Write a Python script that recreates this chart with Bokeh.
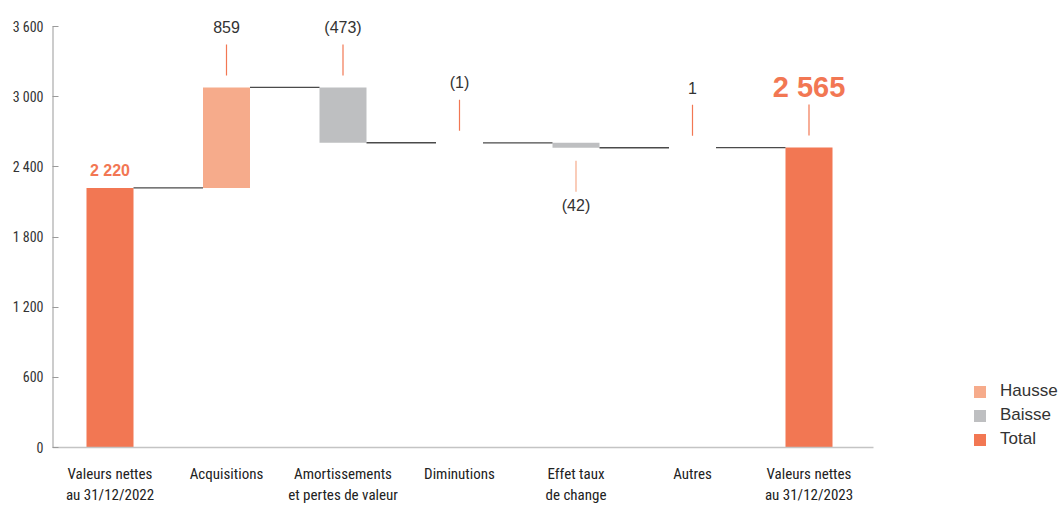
from bokeh.plotting import figure
from bokeh.models import ColumnDataSource, Range1d, FixedTicker, Legend, LegendItem
from bokeh.embed import file_html
from bokeh.resources import INLINE
from bokeh.core.properties import value

# ---------------- data ----------------
categories = [
    "Valeurs nettes\nau 31/12/2022",
    "Acquisitions",
    "Amortissements\net pertes de valeur",
    "Diminutions",
    "Effet taux\nde change",
    "Autres",
    "Valeurs nettes\nau 31/12/2023",
]
values = [2220, 859, -473, -1, -42, 1, 2565]
kinds = ["Total", "Hausse", "Baisse", "Baisse", "Baisse", "Hausse", "Total"]
value_labels = ["2 220", "859", "(473)", "(1)", "(42)", "1", "2 565"]
y_ticks = [0, 600, 1200, 1800, 2400, 3000, 3600]
y_tick_labels = ["0", "600", "1 200", "1 800", "2 400", "3 000", "3 600"]

# ---------------- style / layout ----------------
COL = {"Hausse": "#F6AB8B", "Baisse": "#BEBFC1", "Total": "#F27753"}
label_side = ["first", "above", "above", "above", "below", "above", "above"]
NARROW = "'Roboto Condensed', 'Liberation Sans Narrow', 'DejaVu Sans Condensed', Roboto, sans-serif"
SANS = "'Liberation Sans', Arial, sans-serif"

W, H = 1059, 506
ML = 52
PXX = 116.5            # pixels per category
U = 3600 / 421.0       # data units per pixel (vertical)
X0 = -57.5 / PXX
X1 = X0 + (W - ML) / PXX
XAX_END = X0 + 821 / PXX
Y1 = y_ticks[-1] + 26 * U
Y0 = -(H - 447) * U
BW = 47 / PXX

# ---------------- derived geometry ----------------
xs = list(range(len(categories)))
bottoms, tops, levels = [], [], []
running = 0
for v, k in zip(values, kinds):
    if k == "Total":
        b, t = 0, v
        running = v
    else:
        b, t = running, running + v
        running += v
    bottoms.append(min(b, t))
    tops.append(max(b, t))
    levels.append(running)

p = figure(width=W, height=H, output_backend="svg", toolbar_location=None,
           x_range=Range1d(X0, X1), y_range=Range1d(Y0, Y1),
           min_border_left=ML, min_border_right=0, min_border_top=0,
           min_border_bottom=0)
p.outline_line_color = None
p.xgrid.visible = False
p.ygrid.visible = False
p.xaxis.visible = False

renderers = {}
for kind in ["Hausse", "Baisse", "Total"]:
    idx = [i for i, k in enumerate(kinds) if k == kind]
    src = ColumnDataSource(dict(x=[xs[i] for i in idx],
                                bottom=[bottoms[i] for i in idx],
                                top=[tops[i] for i in idx]))
    renderers[kind] = p.vbar(x="x", bottom="bottom", top="top", width=BW,
                             source=src, fill_color=COL[kind], line_color=None)

# connectors
cx0 = [xs[i] + BW / 2 for i in range(len(xs) - 1)]
cx1 = [xs[i + 1] - BW / 2 for i in range(len(xs) - 1)]
cy = [levels[i] for i in range(len(xs) - 1)]
p.segment(x0=cx0, y0=cy, x1=cx1, y1=cy, line_color="#4a4a4a", line_width=1.3)

# leaders and value labels
lx0, ly0, lx1, ly1, lcol = [], [], [], [], []
tx, ty, tt, tsize, tcol, tstyle = [], [], [], [], [], []
for i, side in enumerate(label_side):
    if side == "first":
        tx.append(xs[i]); ty.append(tops[i] + 17 * U); tt.append(value_labels[i])
        tsize.append("16px"); tcol.append(COL["Total"]); tstyle.append("bold")
    elif side == "above":
        a = tops[i] + 12 * U
        b = a + 31 * U
        lx0.append(xs[i]); ly0.append(a); lx1.append(xs[i]); ly1.append(b)
        lcol.append(COL["Total"])
        tx.append(xs[i]); tt.append(value_labels[i])
        if kinds[i] == "Total":
            ty.append(b + 18 * U); tsize.append("29px"); tcol.append(COL["Total"])
            tstyle.append("bold")
        else:
            ty.append(b + 17 * U); tsize.append("16px"); tcol.append("#333333")
            tstyle.append("normal")
    else:
        a = bottoms[i] - 13 * U
        b = a - 31 * U
        lx0.append(xs[i]); ly0.append(a); lx1.append(xs[i]); ly1.append(b)
        lcol.append(COL["Hausse"])
        tx.append(xs[i]); ty.append(b - 14 * U); tt.append(value_labels[i])
        tsize.append("16px"); tcol.append("#333333"); tstyle.append("normal")

p.segment(x0=lx0, y0=ly0, x1=lx1, y1=ly1, line_color=lcol, line_width=1.2)
tsrc = ColumnDataSource(dict(x=tx, y=ty, t=tt, s=tsize, c=tcol, st=tstyle))
p.text(x="x", y="y", text="t", source=tsrc, text_font=value(SANS),
       text_font_size="s", text_color="c", text_font_style="st",
       text_align="center", text_baseline="middle")

# category labels under the baseline
p.text(x=xs, y=[-17 * U] * len(xs), text=categories, text_font=value(NARROW),
       text_font_size="15px", text_color="#222222", text_align="center",
       text_baseline="top", text_line_height=1.2)

# axis lines (x: 0 baseline; y: from 0 to top tick)
p.segment(x0=[X0], y0=[0], x1=[XAX_END], y1=[0], line_color="#c4c4c4", line_width=1.6)
p.segment(x0=[X0], y0=[y_ticks[0]], x1=[X0], y1=[y_ticks[-1]],
          line_color="#9a9a9a", line_width=2)

# y axis
yax = p.yaxis[0]
yax.ticker = FixedTicker(ticks=y_ticks)
yax.major_label_overrides = {t: l for t, l in zip(y_ticks, y_tick_labels)}
yax.axis_line_color = None
yax.major_tick_in = 6
yax.major_tick_out = 0
yax.major_tick_line_color = "#9a9a9a"
yax.minor_tick_line_color = None
yax.major_label_text_font = NARROW
yax.major_label_text_font_size = "14px"
yax.major_label_text_color = "#333333"
yax.major_label_standoff = 9

legend = Legend(items=[LegendItem(label=k, renderers=[renderers[k]])
                       for k in ["Hausse", "Baisse", "Total"]],
                location=(920, 57), padding=0, margin=0, spacing=4,
                glyph_width=15, glyph_height=15, label_standoff=13,
                label_text_font=SANS, label_text_font_size="17px",
                label_text_color="#333333", border_line_color=None,
                background_fill_alpha=0)
p.add_layout(legend, "center")

open("out.html", "w").write(file_html(p, INLINE))
